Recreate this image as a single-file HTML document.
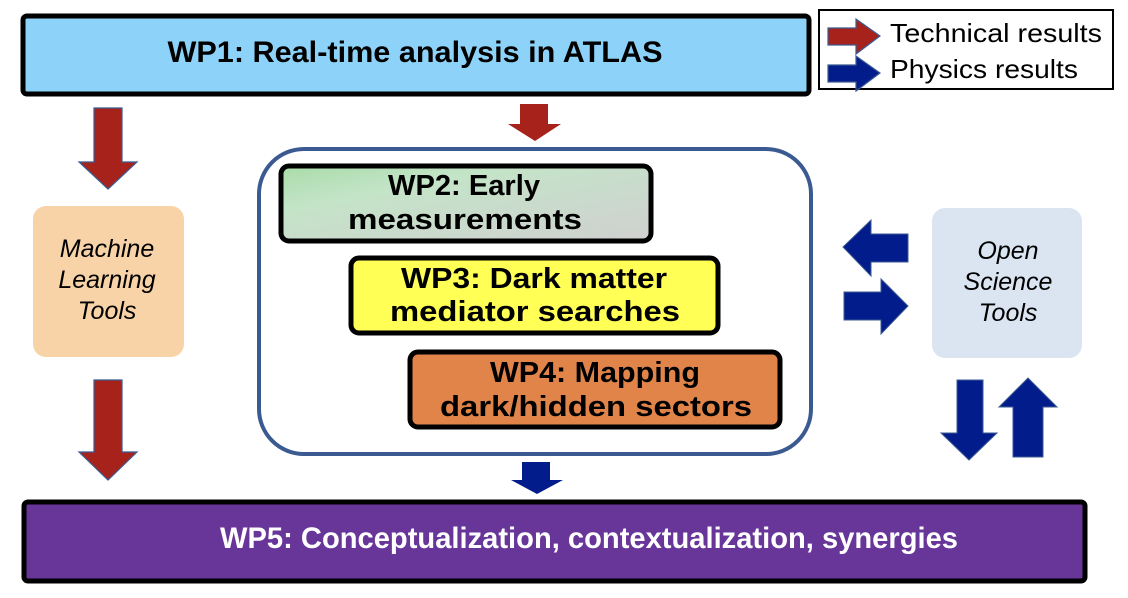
<!DOCTYPE html>
<html><head><meta charset="utf-8"><style>
html,body{margin:0;padding:0;background:#fff;}
svg{display:block;}
text{font-family:"Liberation Sans",sans-serif;}
</style></head><body>
<svg width="1128" height="598" viewBox="0 0 1128 598" xmlns="http://www.w3.org/2000/svg">
<defs>
<linearGradient id="g2" x1="0" y1="0" x2="1" y2="1">
<stop offset="0" stop-color="#a8dca8"/><stop offset="0.3" stop-color="#c4e4c8"/><stop offset="1" stop-color="#d0d0d0"/>
</linearGradient>
</defs>
<!-- WP1 -->
<rect x="23" y="16" width="786" height="78" rx="4" fill="#8dd3f9" stroke="#000" stroke-width="5"/>
<text x="415" y="62" font-size="30" font-weight="bold" text-anchor="middle" textLength="495" lengthAdjust="spacingAndGlyphs">WP1: Real-time analysis in ATLAS</text>
<!-- Legend -->
<rect x="819" y="10" width="294" height="79" fill="#fff" stroke="#000" stroke-width="2"/>
<polygon points="828,28 856,28 856,19 880,36 856,54 856,45 828,45" fill="#a8221c" stroke="#3b5a91" stroke-width="1.2"/>
<polygon points="828,65 856,65 856,56 880,73 856,91 856,82 828,82" fill="#031c8c" stroke="#3b5a91" stroke-width="1.2"/>
<text x="890" y="42" font-size="26" textLength="212" lengthAdjust="spacingAndGlyphs">Technical results</text>
<text x="890" y="78" font-size="26" textLength="188" lengthAdjust="spacingAndGlyphs">Physics results</text>
<!-- red arrows -->
<polygon points="94,108 122,108 122,162 137,162 108,189 79,162 94,162" fill="#a8221c" stroke="#3b5a91" stroke-width="1.2"/>
<polygon points="520,104 548,104 548,124 561,124 535,141 508,124 520,124" fill="#a8221c"/>
<polygon points="94,380 122,380 122,452 137,452 108,480 79,452 94,452" fill="#a8221c" stroke="#3b5a91" stroke-width="1.2"/>
<!-- container -->
<rect x="259" y="149" width="552" height="305" rx="45" fill="#fff" stroke="#3b5a91" stroke-width="4"/>
<!-- WP2 -->
<rect x="281" y="166" width="370" height="75" rx="8" fill="url(#g2)" stroke="#000" stroke-width="5"/>
<text x="464" y="195" font-size="29" font-weight="bold" text-anchor="middle" textLength="152" lengthAdjust="spacingAndGlyphs">WP2: Early</text>
<text x="465" y="229" font-size="29" font-weight="bold" text-anchor="middle" textLength="234" lengthAdjust="spacingAndGlyphs">measurements</text>
<!-- WP3 -->
<rect x="351" y="258" width="367" height="75" rx="8" fill="#ffff55" stroke="#000" stroke-width="5"/>
<text x="534" y="288" font-size="29" text-anchor="middle" font-weight="bold" textLength="266" lengthAdjust="spacingAndGlyphs">WP3: Dark matter</text>
<text x="535" y="321" font-size="29" text-anchor="middle" font-weight="bold" textLength="290" lengthAdjust="spacingAndGlyphs">mediator searches</text>
<!-- WP4 -->
<rect x="410" y="352" width="370" height="75" rx="8" fill="#e0844a" stroke="#000" stroke-width="5"/>
<text x="595" y="382" font-size="29" font-weight="bold" text-anchor="middle" textLength="210" lengthAdjust="spacingAndGlyphs">WP4: Mapping</text>
<text x="596" y="416" font-size="29" font-weight="bold" text-anchor="middle" textLength="312" lengthAdjust="spacingAndGlyphs">dark/hidden sectors</text>
<!-- ML box -->
<rect x="33" y="206" width="151" height="151" rx="13" fill="#f8d3a8"/>
<text x="107" y="257" font-size="25" font-style="italic" text-anchor="middle">Machine</text>
<text x="107" y="288" font-size="25" font-style="italic" text-anchor="middle">Learning</text>
<text x="107" y="319" font-size="25" font-style="italic" text-anchor="middle">Tools</text>
<!-- Open science -->
<rect x="932" y="208" width="150" height="150" rx="13" fill="#dae5f1"/>
<text x="1008" y="259" font-size="25" font-style="italic" text-anchor="middle">Open</text>
<text x="1008" y="290" font-size="25" font-style="italic" text-anchor="middle">Science</text>
<text x="1008" y="321" font-size="25" font-style="italic" text-anchor="middle">Tools</text>
<!-- blue side arrows -->
<polygon points="908,234 871,234 871,220 843,247 871,276 871,262 908,262" fill="#031c8c" stroke="#3b5a91" stroke-width="1"/>
<polygon points="844,292 881,292 881,279 908,306 881,334 881,320 844,320" fill="#031c8c" stroke="#3b5a91" stroke-width="1"/>
<polygon points="957,380 983,380 983,433 997,433 969,460 941,433 957,433" fill="#031c8c" stroke="#3b5a91" stroke-width="1"/>
<polygon points="1013,457 1043,457 1043,407 1057,407 1028,378 999,407 1013,407" fill="#031c8c" stroke="#3b5a91" stroke-width="1"/>
<polygon points="522,462 550,462 550,480 563,480 537,494 511,480 522,480" fill="#031c8c"/>
<!-- WP5 -->
<rect x="24" y="502" width="1061" height="79" rx="4" fill="#683599" stroke="#000" stroke-width="5"/>
<text x="589" y="548" font-size="30" font-weight="bold" fill="#fff" text-anchor="middle" textLength="738" lengthAdjust="spacingAndGlyphs">WP5: Conceptualization, contextualization, synergies</text>
</svg>
</body></html>
